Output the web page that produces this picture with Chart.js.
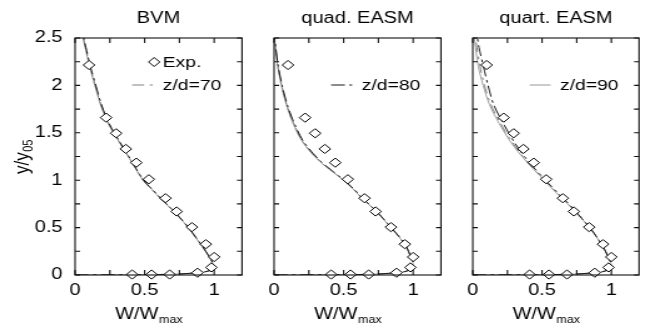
<!DOCTYPE html>
<html>
<head>
<meta charset="utf-8">
<script src="https://cdn.jsdelivr.net/npm/chart.js@4/dist/chart.umd.min.js"></script>
<style>
  html, body { margin: 0; padding: 0; background: #fff; overflow: hidden; }
  #wrap { position: relative; width: 646px; height: 326px; }
  canvas { position: absolute; top: 0; }
</style>
</head>
<body>
<div id="wrap">
  <canvas id="chart1" width="199" height="326"></canvas>
  <canvas id="chart2" width="199" height="326"></canvas>
  <canvas id="chart3" width="199" height="326"></canvas>
</div>
<script>
// Experimental points, same in every panel
var expW = [0.41, 0.55, 0.68, 0.88, 0.98, 1.0, 0.94, 0.84, 0.73, 0.65, 0.53, 0.44, 0.365, 0.295, 0.223, 0.1];
var expY = [0.005, 0.005, 0.005, 0.024, 0.08, 0.19, 0.325, 0.505, 0.67, 0.81, 1.01, 1.185, 1.33, 1.495, 1.66, 2.215];

// y/y05 positions where the computed profiles are read
var profileY = [0, 0.003, 0.008, 0.015, 0.03, 0.06, 0.1, 0.15, 0.2, 0.3, 0.4, 0.5, 0.6, 0.7, 0.8, 0.9, 1.0, 1.2, 1.4, 1.6, 1.8, 2.0, 2.2, 2.4, 2.5];

// W/Wmax of each computed profile (BVM, quadratic EASM, quartic EASM)
var bvm70 = [0, 0.5, 0.7, 0.8, 0.92, 0.99, 0.997, 0.98, 0.96, 0.915, 0.865, 0.814, 0.755, 0.69, 0.62, 0.555, 0.49, 0.405, 0.32, 0.24, 0.185, 0.145, 0.107, 0.075, 0.06];
var bvm80 = [0, 0.5, 0.7, 0.8, 0.92, 0.99, 0.998, 0.982, 0.962, 0.917, 0.867, 0.816, 0.757, 0.692, 0.622, 0.557, 0.492, 0.407, 0.323, 0.244, 0.189, 0.149, 0.11, 0.078, 0.062];
var bvm90 = [0, 0.5, 0.7, 0.8, 0.92, 0.99, 0.996, 0.979, 0.959, 0.914, 0.864, 0.813, 0.754, 0.689, 0.618, 0.553, 0.488, 0.403, 0.318, 0.237, 0.182, 0.142, 0.104, 0.072, 0.057];
var quad70 = [0, 0.5, 0.7, 0.8, 0.92, 0.985, 1.0, 0.995, 0.98, 0.95, 0.9, 0.84, 0.78, 0.715, 0.64, 0.575, 0.5, 0.33, 0.21, 0.14, 0.09, 0.055, 0.028, 0.01, 0.003];
var quad80 = [0, 0.5, 0.7, 0.8, 0.92, 0.985, 1.0, 0.996, 0.981, 0.951, 0.902, 0.842, 0.782, 0.717, 0.643, 0.578, 0.503, 0.335, 0.215, 0.145, 0.094, 0.058, 0.03, 0.012, 0.004];
var quad90 = [0, 0.5, 0.7, 0.8, 0.92, 0.985, 1.0, 0.994, 0.979, 0.949, 0.899, 0.839, 0.779, 0.713, 0.638, 0.572, 0.497, 0.326, 0.206, 0.136, 0.087, 0.052, 0.026, 0.009, 0.002];
var quart70 = [0, 0.5, 0.7, 0.8, 0.92, 0.985, 1.0, 0.99, 0.975, 0.94, 0.895, 0.845, 0.785, 0.722, 0.655, 0.585, 0.52, 0.39, 0.285, 0.2, 0.13, 0.085, 0.053, 0.03, 0.02];
var quart80 = [0, 0.5, 0.7, 0.8, 0.92, 0.985, 1.0, 0.99, 0.975, 0.94, 0.895, 0.845, 0.785, 0.725, 0.66, 0.59, 0.525, 0.4, 0.3, 0.22, 0.15, 0.11, 0.077, 0.045, 0.034];
var quart90 = [0, 0.5, 0.7, 0.8, 0.92, 0.985, 1.0, 0.99, 0.974, 0.939, 0.893, 0.842, 0.782, 0.718, 0.65, 0.58, 0.515, 0.385, 0.275, 0.19, 0.12, 0.075, 0.04, 0.02, 0.012];

var panelTitles = ['BVM', 'quad. EASM', 'quart. EASM'];
var caseLabels = ['z/d=70', 'z/d=80', 'z/d=90'];
var xTickValues = [0, 0.25, 0.5, 0.75, 1];
var yTickValues = [0, 0.25, 0.5, 0.75, 1, 1.25, 1.5, 1.75, 2, 2.25, 2.5];
var xLabelled = [0, 0.5, 1];
var yLabelled = [0, 0.5, 1, 1.5, 2, 2.5];

// the original figure is stretched sideways, so every canvas is drawn narrow and widened by css
var S = 1.25;
var FONT = '"Liberation Sans", Arial, Helvetica, sans-serif';
var caseStyles = [
    { color: '#808080', dash: [9.6, 4.5, 2.4, 4.5] },
    { color: '#1a1a1a', dash: [11, 3.5, 2.7, 3.5] },
    { color: '#a0a0a0', dash: [] }
];

function profile(ws) {
    return ws.map(function (w, i) { return { x: w, y: profileY[i] }; });
}

function isLabelled(list, v) {
    for (var i = 0; i < list.length; i++) {
        if (Math.abs(list[i] - v) < 1e-9) return true;
    }
    return false;
}

//Frame, inward ticks on four sides, axis titles with subscripts and the small legends
var framePlugin = {
    id: 'frame',
    afterDraw: function (chart, args, opts) {
        var ctx = chart.ctx;
        var a = chart.chartArea;
        var xs = chart.scales.x, ys = chart.scales.y;
        ctx.save();
        ctx.strokeStyle = '#111';
        ctx.lineWidth = 1.1;
        ctx.setLineDash([]);
        ctx.strokeRect(a.left, a.top, a.right - a.left, a.bottom - a.top);

        ctx.beginPath();
        xs.ticks.forEach(function (t) {
            var px = xs.getPixelForValue(t.value);
            ctx.moveTo(px, a.bottom); ctx.lineTo(px, a.bottom - 5);
            ctx.moveTo(px, a.top); ctx.lineTo(px, a.top + 5);
        });
        ys.ticks.forEach(function (t) {
            var py = ys.getPixelForValue(t.value);
            ctx.moveTo(a.left, py); ctx.lineTo(a.left + 4, py);
            ctx.moveTo(a.right, py); ctx.lineTo(a.right - 4, py);
        });
        ctx.stroke();

        // x title W/Wmax
        ctx.fillStyle = '#000';
        ctx.textBaseline = 'alphabetic';
        ctx.textAlign = 'left';
        ctx.font = '16px ' + FONT;
        var wMain = ctx.measureText('W/W').width;
        ctx.font = '10px ' + FONT;
        var wSub = ctx.measureText('max').width;
        var cx = (a.left + a.right) / 2 - 8;
        var x0 = cx - (wMain + wSub) / 2;
        ctx.font = '16px ' + FONT;
        ctx.fillText('W/W', x0, 319);
        ctx.font = '10px ' + FONT;
        ctx.fillText('max', x0 + wMain + 0.5, 323);

        // y title y/y05, only on the first panel
        if (opts.yTitle) {
            ctx.save();
            ctx.translate(23, 157);
            ctx.rotate(-Math.PI / 2);
            ctx.font = '17px ' + FONT;
            var yMain = ctx.measureText('y/y').width;
            ctx.font = '11px ' + FONT;
            var ySub = ctx.measureText('05').width;
            var y0 = -(yMain + ySub) / 2;
            ctx.font = '17px ' + FONT;
            ctx.fillText('y/y', y0, 0);
            ctx.font = '11px ' + FONT;
            ctx.fillText('05', y0 + yMain + 0.5, 2.5);
            ctx.restore();
        }

        // legend entries inside the frame
        ctx.font = '15.5px ' + FONT;
        ctx.textBaseline = 'middle';
        if (opts.showExp) {
            var dx = a.left + 63.2, dy = a.top + 24;
            ctx.beginPath();
            ctx.moveTo(dx, dy - 4.5); ctx.lineTo(dx + 4.5, dy); ctx.lineTo(dx, dy + 4.5); ctx.lineTo(dx - 4.5, dy);
            ctx.closePath();
            ctx.fillStyle = '#fff';
            ctx.fill();
            ctx.strokeStyle = '#000';
            ctx.lineWidth = 1;
            ctx.stroke();
            ctx.fillStyle = '#000';
            ctx.fillText('Exp.', a.left + 70, dy + 1);
        }
        var st = caseStyles[opts.legendCase];
        var ly = a.top + 47;
        ctx.beginPath();
        ctx.strokeStyle = st.color;
        ctx.lineWidth = 1.1;
        ctx.setLineDash(st.dash);
        ctx.moveTo(a.left + 45.6, ly); ctx.lineTo(a.left + 62.4, ly);
        ctx.stroke();
        ctx.setLineDash([]);
        ctx.fillStyle = '#000';
        ctx.fillText(caseLabels[opts.legendCase], a.left + 70, ly + 1);
        ctx.restore();
    }
};

var panelProfiles = [
    [bvm70, bvm80, bvm90],
    [quad70, quad80, quad90],
    [quart70, quart80, quart90]
];
var panelLefts = [0, 199, 397.5];

for (var p = 0; p < 3; p++) {
    var canvas = document.getElementById('chart' + (p + 1));
    canvas.style.left = panelLefts[p] + 'px';
    canvas.style.width = (199 * S) + 'px';
    canvas.style.height = '326px';

    var prof = panelProfiles[p];
    var expPoints = expW.map(function (w, i) { return { x: w, y: expY[i] }; });
    // first dataset is drawn on top
    var datasets = [
        {
            label: 'Exp.',
            data: expPoints,
            showLine: false,
            pointStyle: 'rectRot',
            pointRadius: 4.6,
            pointBackgroundColor: '#fff',
            pointBorderColor: '#000',
            pointBorderWidth: 1,
            clip: false
        }
    ];
    [1, 0, 2].forEach(function (k) {
        datasets.push({
            label: caseLabels[k],
            data: profile(prof[k]),
            showLine: true,
            pointRadius: 0,
            borderColor: caseStyles[k].color,
            borderDash: caseStyles[k].dash,
            borderWidth: 1,
            tension: 0.3,
            fill: false
        });
    });

    new Chart(canvas, {
        type: 'scatter',
        data: { datasets: datasets },
        options: {
            responsive: false,
            animation: false,
            events: [],
            layout: { padding: { left: 0, right: 2, top: 0, bottom: 0 } },
            plugins: {
                legend: { display: false },
                tooltip: { enabled: false },
                title: {
                    display: true,
                    text: panelTitles[p],
                    fullSize: false,
                    color: '#000',
                    font: { family: FONT, size: 16, weight: 'normal', lineHeight: 1.2 },
                    padding: { top: 9, bottom: 9.8 }
                },
                frame: { showExp: p === 0, yTitle: p === 0, legendCase: p }
            },
            scales: {
                x: {
                    type: 'linear',
                    min: 0,
                    max: 1.2,
                    afterFit: function (s) { s.height = 51; },
                    afterBuildTicks: function (s) {
                        s.ticks = xTickValues.map(function (v) { return { value: v }; });
                    },
                    grid: { display: false, drawTicks: false },
                    border: { display: false },
                    ticks: {
                        autoSkip: false,
                        maxRotation: 0,
                        padding: 6,
                        color: '#000',
                        font: { family: FONT, size: 16 },
                        callback: function (v) { return isLabelled(xLabelled, v) ? String(v) : ''; }
                    }
                },
                y: {
                    type: 'linear',
                    min: 0,
                    max: 2.5,
                    afterFit: function (s) { s.width = 60; },
                    afterBuildTicks: function (s) {
                        s.ticks = yTickValues.map(function (v) { return { value: v }; });
                    },
                    grid: { display: false, drawTicks: false },
                    border: { display: false },
                    ticks: {
                        display: p === 0,
                        autoSkip: false,
                        padding: 10,
                        color: '#000',
                        font: { family: FONT, size: 16 },
                        callback: function (v) { return isLabelled(yLabelled, v) ? String(v) : ''; }
                    }
                }
            }
        },
        plugins: [framePlugin]
    });
}
</script>
</body>
</html>
